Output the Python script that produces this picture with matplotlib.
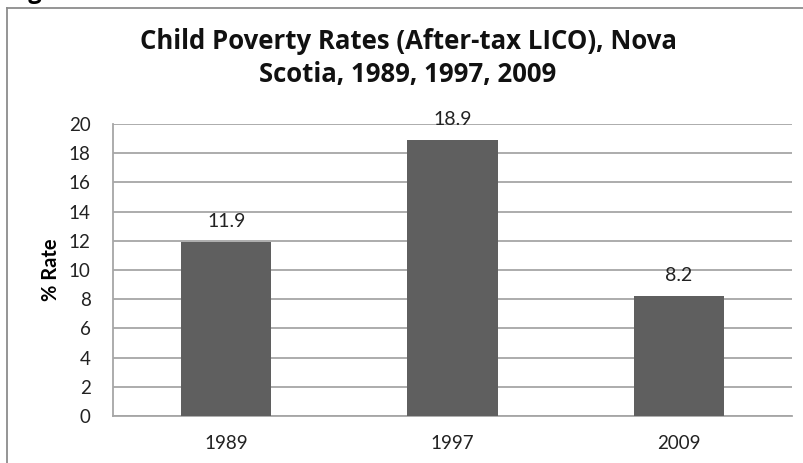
import matplotlib
matplotlib.use('Agg')
import matplotlib.pyplot as plt
from matplotlib.lines import Line2D
import numpy as np

years = ['1989', '1997', '2009']
rates = [11.9, 18.9, 8.2]
yticks = [0, 2, 4, 6, 8, 10, 12, 14, 16, 18, 20]

plt.rcParams['font.family'] = ['Lato', 'DejaVu Sans']

W, H = 804, 463
fig = plt.figure(figsize=(W / 100, H / 100), dpi=100)
ax = fig.add_axes([113 / W, 1 - 416 / H, (792 - 113) / W, (416 - 124) / H])

xs = np.arange(len(years))
ax.bar(xs, rates, width=0.4, color='#5f5f5f', zorder=3)
for x, v in zip(xs, rates):
    ax.annotate(str(v), (x, v), xytext=(0, 9), textcoords='offset points',
                ha='center', va='bottom', fontsize=14, color='#222222')

ax.set_xlim(-0.5, len(years) - 0.5)
ax.set_ylim(0, 20)
ax.set_yticks(yticks)
ax.set_xticks(xs)
ax.set_xticklabels(years)
ax.yaxis.grid(True, color='#a6a6a6', linewidth=1.3, zorder=0)
ax.tick_params(axis='both', length=0, labelsize=13.5, colors='#222222')
ax.tick_params(axis='y', pad=16)
ax.tick_params(axis='x', pad=14)
for s in ['top', 'right']:
    ax.spines[s].set_visible(False)
for s in ['left', 'bottom']:
    ax.spines[s].set_color('#a6a6a6')
    ax.spines[s].set_linewidth(1.3)
ax.set_ylabel('% Rate', fontsize=14.5, fontweight='bold', labelpad=6)

fig.text(408 / W, 1 - 58 / H,
         'Child Poverty Rates (After-tax LICO), Nova\nScotia, 1989, 1997, 2009',
         ha='center', va='center', fontsize=18.5, fontweight='bold',
         family=['Open Sans', 'DejaVu Sans'], linespacing=1.3, color='#111111')

# page caption above the chart frame, mostly cut off
fig.text(8 / W, 1 + 2 / H, 'Figure 6', ha='left', va='baseline', fontsize=17,
         fontweight='bold', family=['Open Sans', 'DejaVu Sans'])

# outer chart frame (top and left edges)
fig.add_artist(Line2D([7 / W, 1], [1 - 8 / H, 1 - 8 / H], transform=fig.transFigure,
                      color='#8c8c8c', linewidth=1.3))
fig.add_artist(Line2D([7 / W, 7 / W], [0, 1 - 8 / H], transform=fig.transFigure,
                      color='#8c8c8c', linewidth=1.3))

fig.savefig('out.png', dpi=100)
